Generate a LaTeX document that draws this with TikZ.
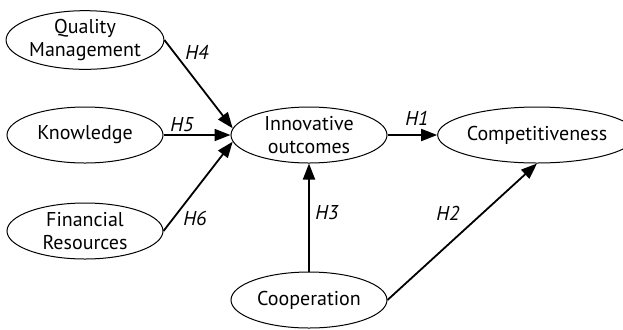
\documentclass[tikz,border=0pt]{standalone}
\usepackage{fontspec}
\setmainfont{PT Sans}
\usetikzlibrary{shapes.geometric,arrows.meta}

\tikzset{
  construct/.style={draw,ellipse,line width=0.5pt,inner sep=0pt,
    minimum width=78pt,minimum height=28pt,align=center,font=\fontsize{10}{11.5}\selectfont},
  path/.style={line width=0.9pt,-{Triangle[length=8pt,width=6pt]}},
  hyp/.style={font=\fontsize{10}{11.5}\selectfont\itshape}
}

\begin{document}
\begin{tikzpicture}[x=0.5pt,y=-0.5pt]
    \useasboundingbox (0,0) rectangle (623,329);

    % Constructs
    \node[construct] (qm) at (85,40) {Quality\\Management};
    \node[construct] (kn) at (85,135) {Knowledge};
    \node[construct] (fr) at (85,231) {Financial\\Resources};
    \node[construct] (io) at (309,135) {Innovative\\outcomes};
    \node[construct,minimum width=84pt] (co) at (537,135) {Competitiveness};
    \node[construct] (cp) at (309,300) {Cooperation};

    % Hypothesised paths
    \draw[path] (qm.east) -- (io.175);
    \draw[path] (kn.east) -- (io.west);
    \draw[path] (fr.east) -- (io.185);
    \draw[path] (io.east) -- (co.west);
    \draw[path] (cp.north) -- (io.south);
    \draw[path] (cp.east) -- (co.south);

    % Labels of the paths
    \foreach \name/\pos/\txt in {h1/{(417,118)}/H1, h2/{(448,213)}/H2, h3/{(327,213)}/H3,
                                 h4/{(197,52)}/H4, h5/{(182,125)}/H5, h6/{(195,218)}/H6}
        \node[hyp] (\name) at \pos {\txt};

\end{tikzpicture}
\end{document}
